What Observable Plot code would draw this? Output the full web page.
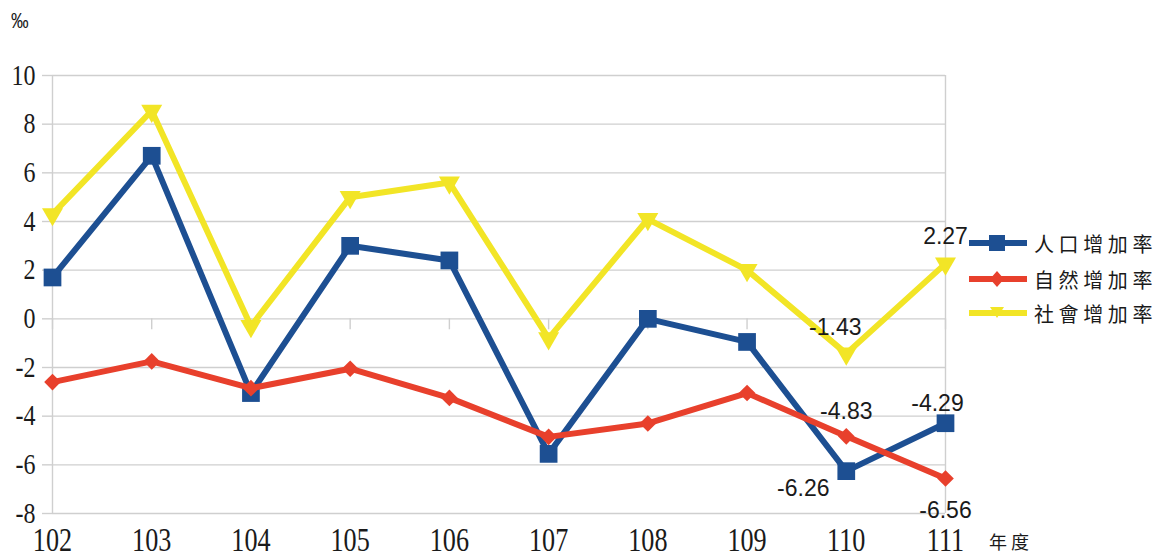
<!DOCTYPE html>
<html><head><meta charset="utf-8">
<script src="https://cdn.jsdelivr.net/npm/d3@7"></script>
<script src="https://cdn.jsdelivr.net/npm/@observablehq/plot@0.6"></script>
<style>
body{margin:0;background:#fff}
#wrap{position:relative;width:1163px;height:560px;overflow:hidden;background:#fff}
.abs{position:absolute;white-space:nowrap;color:#1a1a1a}
.lgrow{position:absolute;left:968px;height:28px;display:flex;align-items:center}
.lgrow span{font-family:"Noto Sans CJK TC","Noto Sans CJK SC",sans-serif;font-size:20px;letter-spacing:4.6px;margin-left:6px;color:#1a1a1a}
svg g[aria-label$="tick label"] text{font-family:"Liberation Serif","Times New Roman",Times,serif !important}
</style></head>
<body><div id="wrap"></div>
<script>
const years = [102, 103, 104, 105, 106, 107, 108, 109, 110, 111];
const total   = [1.7, 6.7, -3.05, 3.0, 2.4, -5.55, 0.0, -0.95, -6.26, -4.29];
const natural = [-2.6, -1.75, -2.85, -2.05, -3.25, -4.85, -4.3, -3.05, -4.83, -6.56];
const social  = [4.3, 8.55, -0.3, 5.0, 5.6, -0.8, 4.1, 2.0, -1.43, 2.27];
const seriesNames = ["人口增加率", "自然增加率", "社會增加率"];
const yTicks = [-8, -6, -4, -2, 0, 2, 4, 6, 8, 10];
const unitLabel = "‰";
const xAxisTitle = "年度";

const BLUE = "#1d4f92", RED = "#e8402c", YELLOW = "#f2e526";
const SERIF = "'Liberation Serif', 'Times New Roman', serif";
const SANS = "'Liberation Sans', Arial, sans-serif";
const rows = arr => years.map((year, i) => ({year, value: arr[i]}));
const tRows = rows(total), nRows = rows(natural), sRows = rows(social);
const pick = (r, yr) => r.filter(d => d.year === yr);
const fmt = d => d.value.toFixed(2);
const lblFont = {fontFamily: SANS, fontSize: 23, fill: "#1a1a1a", text: fmt, x: "year", y: "value"};

const chart = Plot.plot({
  width: 1163, height: 560,
  marginLeft: 52, marginRight: 218, marginTop: 75, marginBottom: 47,
  style: {background: "transparent", overflow: "visible"},
  x: {domain: [102, 111]},
  y: {domain: [-8, 10]},
  marks: [
    Plot.gridY(yTicks, {stroke: "#cfcfcf", strokeOpacity: 1, strokeWidth: 1.4}),
    Plot.ruleX([years[0], years[years.length - 1]], {stroke: "#cfcfcf", strokeWidth: 1.4}),
    Plot.ruleX(years, {x: d => d, y1: 0, y2: -0.45, stroke: "#cfcfcf", strokeWidth: 1.4}),
    Plot.axisY(yTicks, {tickSize: 10, tickPadding: 7, stroke: "#cfcfcf", strokeWidth: 1.4,
      tickFormat: d => String(d), fontSize: 24, fontFamily: SERIF, fill: "#1a1a1a", label: null}),
    Plot.axisX(years, {tickSize: 0, tickPadding: 14, tickFormat: d => String(d),
      fontSize: 27, fontFamily: SERIF, fill: "#1a1a1a", label: null}),
    Plot.line(tRows, {x: "year", y: "value", stroke: BLUE, strokeWidth: 6, strokeLinejoin: "round"}),
    Plot.dot(tRows, {x: "year", y: "value", symbol: "square", r: 10, fill: BLUE}),
    Plot.line(nRows, {x: "year", y: "value", stroke: RED, strokeWidth: 6, strokeLinejoin: "round"}),
    Plot.dot(nRows, {x: "year", y: "value", symbol: "diamond2", r: 7.5, fill: RED}),
    Plot.line(sRows, {x: "year", y: "value", stroke: YELLOW, strokeWidth: 6, strokeLinejoin: "round"}),
    Plot.dot(sRows, {x: "year", y: "value", symbol: "triangle", r: 7.8, rotate: 180, fill: YELLOW}),
    Plot.text(pick(sRows, 111), {...lblFont, dy: -27}),
    Plot.text(pick(sRows, 110), {...lblFont, dx: -11, dy: -26}),
    Plot.text(pick(nRows, 110), {...lblFont, dy: -25}),
    Plot.text(pick(tRows, 110), {...lblFont, dx: -43, dy: 17}),
    Plot.text(pick(tRows, 111), {...lblFont, dx: -8, dy: -20}),
    Plot.text(pick(nRows, 111), {...lblFont, dy: 32})
  ]
});

// serif tick labels, stretched vertically like the reference's tall glyphs
chart.querySelectorAll('g[aria-label="x-axis tick label"] text').forEach(t => {
  t.setAttribute("transform", (t.getAttribute("transform") || "") + " scale(0.97,1.22)");
});
chart.querySelectorAll('g[aria-label="y-axis tick label"] text').forEach(t => {
  t.setAttribute("transform", (t.getAttribute("transform") || "") + " scale(1,1.2)");
});

const wrap = document.getElementById("wrap");
wrap.appendChild(chart);

const u = document.createElement("div");
u.className = "abs";
u.style.cssText = "left:11px;top:8px;font-family:'Liberation Sans',Arial,sans-serif;font-size:22px;transform:scaleX(0.8);transform-origin:left";
u.textContent = unitLabel;
wrap.appendChild(u);

const xt = document.createElement("div");
xt.className = "abs";
xt.style.cssText = "left:989px;top:528px;font-family:'Noto Sans CJK TC',sans-serif;font-size:18px;letter-spacing:4px";
xt.textContent = xAxisTitle;
wrap.appendChild(xt);

const colors = [BLUE, RED, YELLOW];
const tops = [243, 279, 313];
const markers = [
  c => `<rect x="21" y="1" width="16" height="16" fill="${c}"/>`,
  c => `<path d="M29 1 L36 9 L29 17 L22 9 Z" fill="${c}"/>`,
  c => `<path d="M22 3 L36 3 L29 14 Z" fill="${c}"/>`
];
seriesNames.forEach((name, i) => {
  const row = document.createElement("div");
  row.className = "lgrow";
  row.style.top = (tops[i] - 14) + "px";
  row.innerHTML = `<svg width="60" height="18"><line x1="1" x2="59" y1="9" y2="9" stroke="${colors[i]}" stroke-width="6"/>${markers[i](colors[i])}</svg><span>${name}</span>`;
  wrap.appendChild(row);
});
</script>
</body></html>
